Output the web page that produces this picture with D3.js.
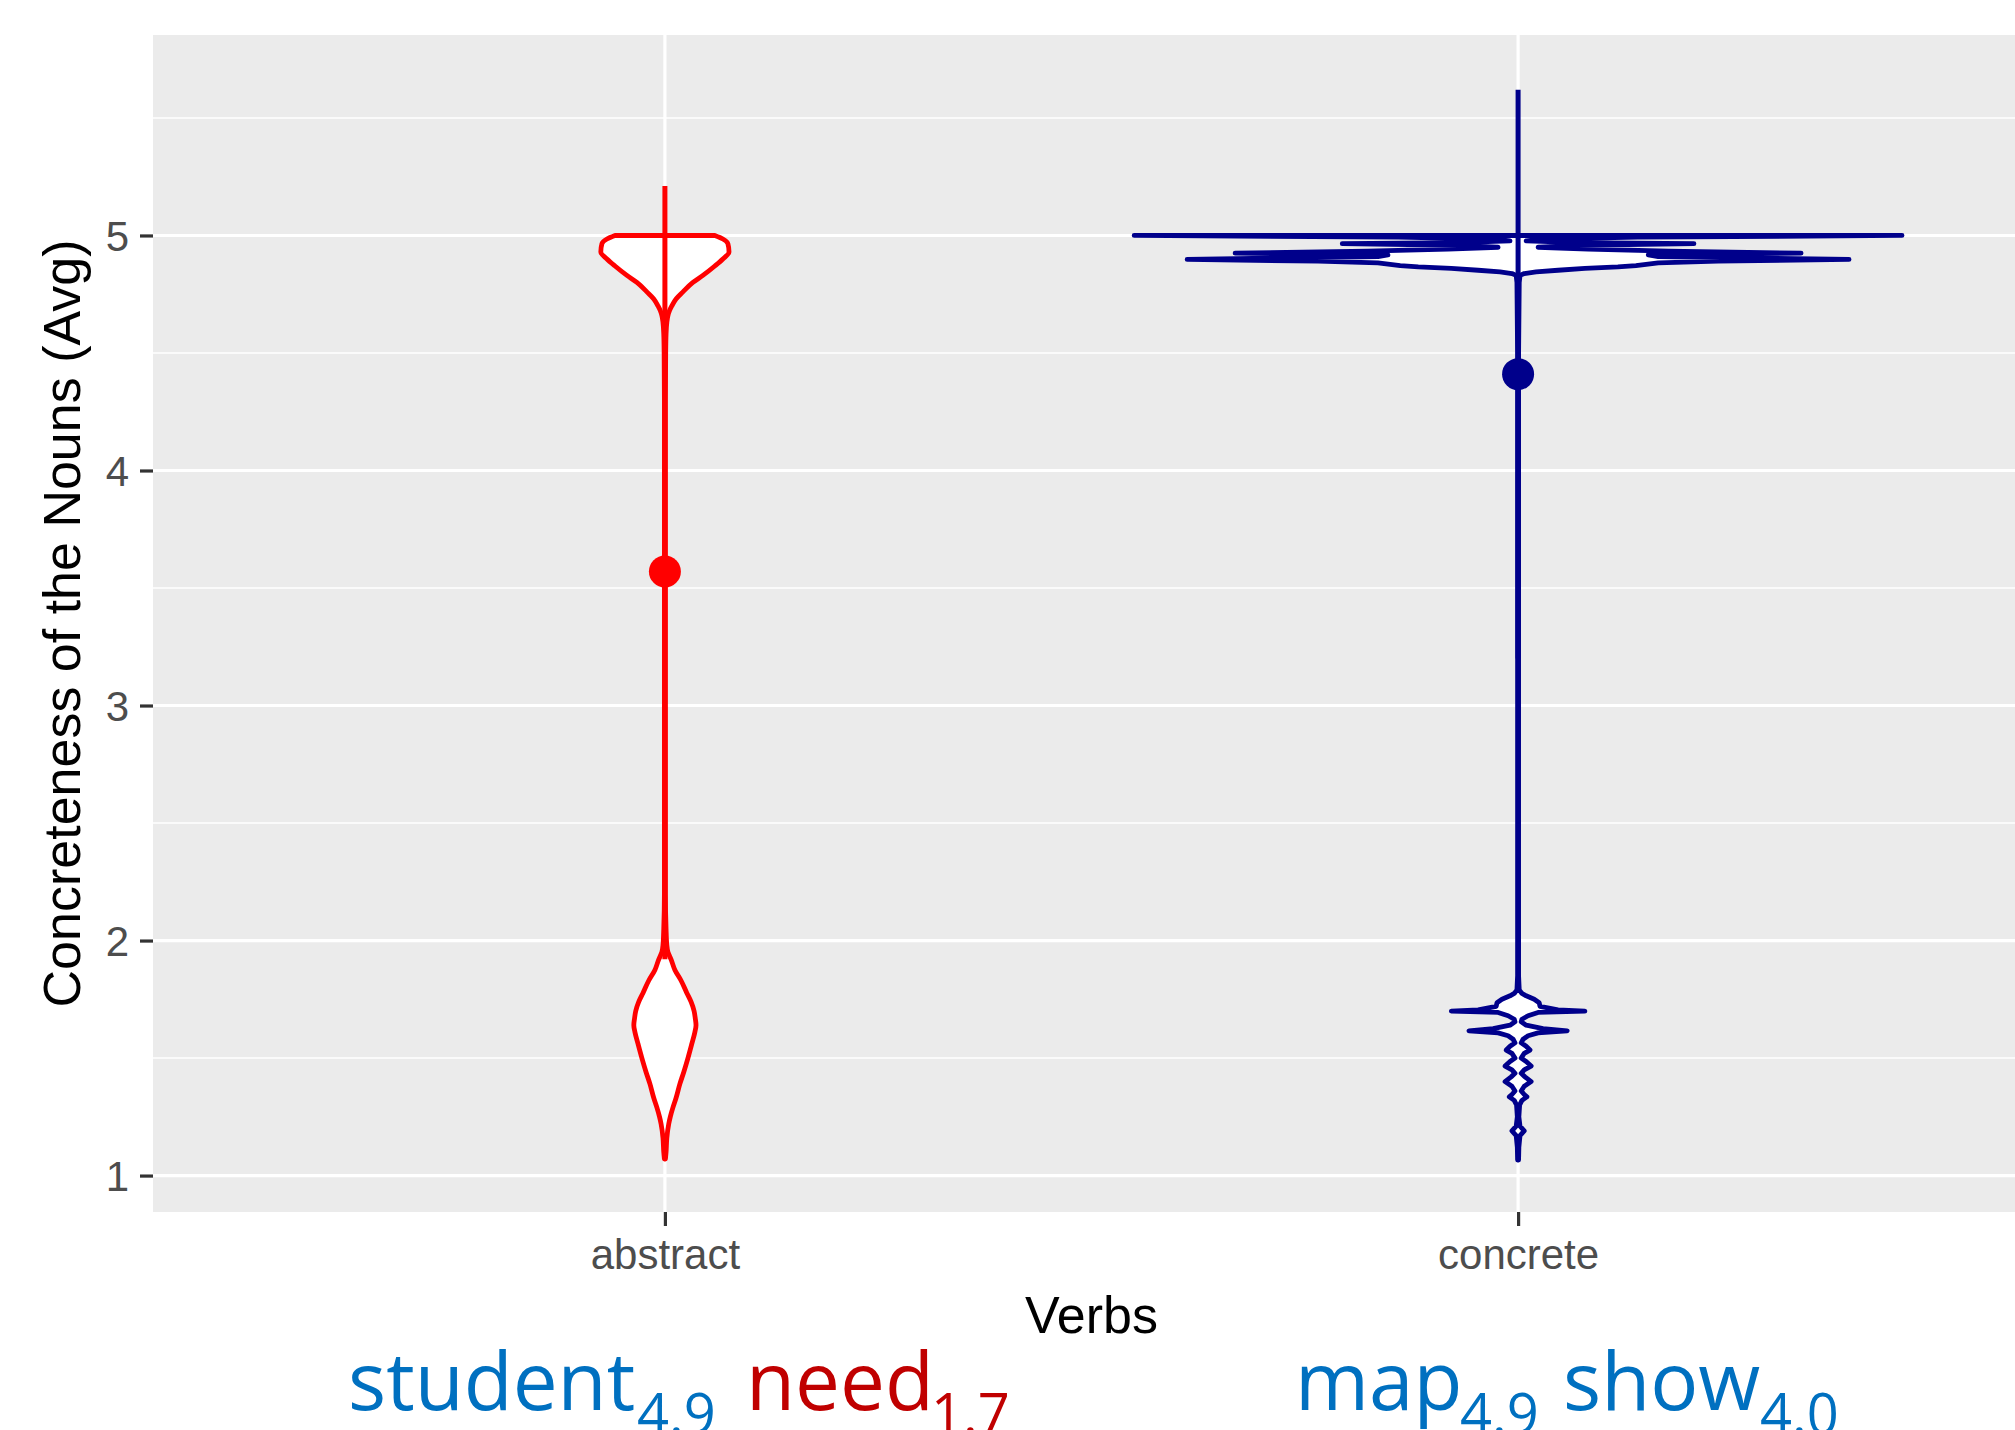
<!DOCTYPE html>
<html>
<head>
<meta charset="utf-8">
<script src="https://cdn.jsdelivr.net/npm/d3@7"></script>
<style>
  body { margin: 0; background: #fff; }
  svg { display: block; }
</style>
</head>
<body>
<div id="chart"></div>
<script>
// categories and summary values (mean with range)
var categories = ["abstract", "concrete"];
var colors = ["#FF0000", "#00008B"];
var means = [3.57, 4.41];
var lows = [1.92, 3.20];
var highs = [5.21, 5.62];

var yTicks = [1, 2, 3, 4, 5];
var yMinor = [1.5, 2.5, 3.5, 4.5, 5.5];

// violin outlines: [value, density relative to the widest violin]
var abstractViolin = [
  [5.00, 0.130], [4.985, 0.151], [4.965, 0.164], [4.93, 0.167], [4.90, 0.151],
  [4.87, 0.130], [4.83, 0.099], [4.80, 0.073], [4.76, 0.047], [4.73, 0.029],
  [4.70, 0.018], [4.68, 0.012], [4.66, 0.008], [4.63, 0.005], [4.58, 0.003],
  [4.50, 0.002], [4.30, 0.0013], [3.50, 0.0013], [2.50, 0.0013], [2.20, 0.0013],
  [2.05, 0.003], [1.98, 0.005], [1.95, 0.008], [1.92, 0.016], [1.875, 0.026],
  [1.83, 0.042], [1.777, 0.057], [1.74, 0.068], [1.70, 0.076], [1.67, 0.079],
  [1.64, 0.081], [1.61, 0.078], [1.56, 0.070], [1.50, 0.060], [1.44, 0.049],
  [1.39, 0.039], [1.33, 0.029], [1.29, 0.021], [1.25, 0.014], [1.22, 0.010],
  [1.16, 0.005], [1.10, 0.003], [1.07, 0.0013]
];

var concreteViolin = [
  [5.000, 1.000], [4.993, 0.312], [4.985, 0.065], [4.977, 0.021], [4.970, 0.156],
  [4.965, 0.458], [4.958, 0.156], [4.950, 0.052], [4.942, 0.182], [4.933, 0.391],
  [4.925, 0.737], [4.917, 0.339], [4.910, 0.365], [4.903, 0.651], [4.898, 0.862],
  [4.891, 0.521], [4.883, 0.365], [4.872, 0.307], [4.866, 0.260], [4.860, 0.174],
  [4.852, 0.104], [4.845, 0.047], [4.838, 0.016], [4.830, 0.005], [4.80, 0.003],
  [4.50, 0.0013], [3.00, 0.0013], [1.85, 0.0013], [1.79, 0.003], [1.775, 0.010],
  [1.765, 0.021], [1.75, 0.042], [1.735, 0.055], [1.72, 0.057], [1.705, 0.104],
  [1.700, 0.174], [1.694, 0.052], [1.680, 0.026], [1.665, 0.010], [1.654, 0.008],
  [1.640, 0.021], [1.625, 0.065], [1.616, 0.128], [1.607, 0.052], [1.595, 0.026],
  [1.580, 0.013], [1.565, 0.008], [1.550, 0.021], [1.534, 0.031], [1.520, 0.016],
  [1.500, 0.008], [1.485, 0.021], [1.466, 0.034], [1.450, 0.016], [1.435, 0.008],
  [1.420, 0.018], [1.400, 0.034], [1.380, 0.016], [1.360, 0.008], [1.345, 0.016],
  [1.335, 0.023], [1.320, 0.010], [1.300, 0.004], [1.250, 0.002], [1.210, 0.005],
  [1.190, 0.016], [1.170, 0.005], [1.120, 0.002], [1.066, 0.0013]
];
var violins = [abstractViolin, concreteViolin];

// example words with their concreteness, placed under the chart
var words = ["student", "need", "map", "show"];
var wordScores = ["4.9", "1.7", "4.9", "4.0"];
var wordColors = ["#0070C0", "#C00000", "#0070C0", "#0070C0"];
var wordX = [348, 746, 1295, 1563];
var scoreX = [637, 931, 1460, 1760];

var svgWidth = 2015;
var svgHeight = 1430;

var panel = { left: 153, right: 2030, top: 35, bottom: 1212 };

var svg = d3.select("#chart").append("svg")
  .attr("width", svgWidth)
  .attr("height", svgHeight);

var x = d3.scalePoint()
  .domain(categories)
  .range([panel.left, panel.right])
  .padding(0.6);

var y = d3.scaleLinear()
  .domain([0.845, 5.853])
  .range([panel.bottom, panel.top]);

// half width of a violin, 0.45 of a category step
var w = d3.scaleLinear()
  .domain([0, 1])
  .range([0, 0.45 * x.step()]);

// panel background
svg.append("rect")
  .attr("x", panel.left)
  .attr("y", panel.top)
  .attr("width", panel.right - panel.left)
  .attr("height", panel.bottom - panel.top)
  .attr("fill", "#EBEBEB");

var grid = svg.append("g");

grid.selectAll(".minor")
  .data(yMinor)
  .enter()
  .append("line")
  .attr("x1", panel.left).attr("x2", panel.right)
  .attr("y1", d => y(d)).attr("y2", d => y(d))
  .attr("stroke", "#fff")
  .attr("stroke-width", 1.6);

grid.selectAll(".major")
  .data(yTicks)
  .enter()
  .append("line")
  .attr("x1", panel.left).attr("x2", panel.right)
  .attr("y1", d => y(d)).attr("y2", d => y(d))
  .attr("stroke", "#fff")
  .attr("stroke-width", 3.2);

grid.selectAll(".vmajor")
  .data(categories)
  .enter()
  .append("line")
  .attr("x1", d => x(d)).attr("x2", d => x(d))
  .attr("y1", panel.top).attr("y2", panel.bottom)
  .attr("stroke", "#fff")
  .attr("stroke-width", 3.2);

// violins
categories.forEach(function(cat, i) {
  var cx = x(cat);
  var area = d3.area()
    .y(d => y(d[0]))
    .x0(d => cx - w(d[1]))
    .x1(d => cx + w(d[1]))
    .curve(i == 0 ? d3.curveMonotoneY : d3.curveLinear);

  svg.append("path")
    .datum(violins[i])
    .attr("d", area)
    .attr("fill", "#fff")
    .attr("stroke", colors[i])
    .attr("stroke-width", 4.8)
    .attr("stroke-linejoin", "round");
});

// mean and range
var ranges = svg.append("g");
ranges.selectAll("line")
  .data(categories)
  .enter()
  .append("line")
  .attr("x1", d => x(d)).attr("x2", d => x(d))
  .attr("y1", (d, i) => y(lows[i]))
  .attr("y2", (d, i) => y(highs[i]))
  .attr("stroke", (d, i) => colors[i])
  .attr("stroke-width", 5);

ranges.selectAll("circle")
  .data(categories)
  .enter()
  .append("circle")
  .attr("cx", d => x(d))
  .attr("cy", (d, i) => y(means[i]))
  .attr("r", 16)
  .attr("fill", (d, i) => colors[i]);

// axes
var leftAxis = d3.axisLeft(y).tickValues(yTicks).tickSize(13).tickPadding(11).tickFormat(d3.format("d"));
var bottomAxis = d3.axisBottom(x).tickSize(14).tickPadding(13);

var yAxisG = svg.append("g")
  .attr("transform", `translate(${panel.left}, 0)`)
  .call(leftAxis);
var xAxisG = svg.append("g")
  .attr("transform", `translate(0, ${panel.bottom})`)
  .call(bottomAxis);

[yAxisG, xAxisG].forEach(function(g) {
  g.select(".domain").remove();
  g.selectAll(".tick line").attr("stroke", "#333").attr("stroke-width", 3.2);
  g.selectAll(".tick text")
    .attr("fill", "#4D4D4D")
    .style("font-family", "'Liberation Sans', Arial, sans-serif")
    .style("font-size", "42px");
});
yAxisG.selectAll(".tick text").attr("dy", "0.36em");
xAxisG.selectAll(".tick text").attr("dy", "0.72em");

// axis titles
svg.append("text")
  .attr("x", (panel.left + panel.right) / 2)
  .attr("y", 1333)
  .attr("text-anchor", "middle")
  .style("font-family", "'Liberation Sans', Arial, sans-serif")
  .style("font-size", "52px")
  .text("Verbs");

svg.append("text")
  .attr("transform", `translate(80, ${(panel.top + panel.bottom) / 2}) rotate(-90)`)
  .attr("text-anchor", "middle")
  .style("font-family", "'Liberation Sans', Arial, sans-serif")
  .style("font-size", "52px")
  .text("Concreteness of the Nouns (Avg)");

// example words with subscript scores
var wordG = svg.append("g")
  .style("font-family", "'Open Sans', 'Noto Sans', sans-serif");

wordG.selectAll(".word")
  .data(words)
  .enter()
  .append("text")
  .attr("x", (d, i) => wordX[i])
  .attr("y", 1410)
  .attr("fill", (d, i) => wordColors[i])
  .style("font-size", "80px")
  .text(d => d);

wordG.selectAll(".score")
  .data(wordScores)
  .enter()
  .append("text")
  .attr("x", (d, i) => scoreX[i])
  .attr("y", 1434)
  .attr("fill", (d, i) => wordColors[i])
  .style("font-size", "56px")
  .text(d => d);
</script>
</body>
</html>
